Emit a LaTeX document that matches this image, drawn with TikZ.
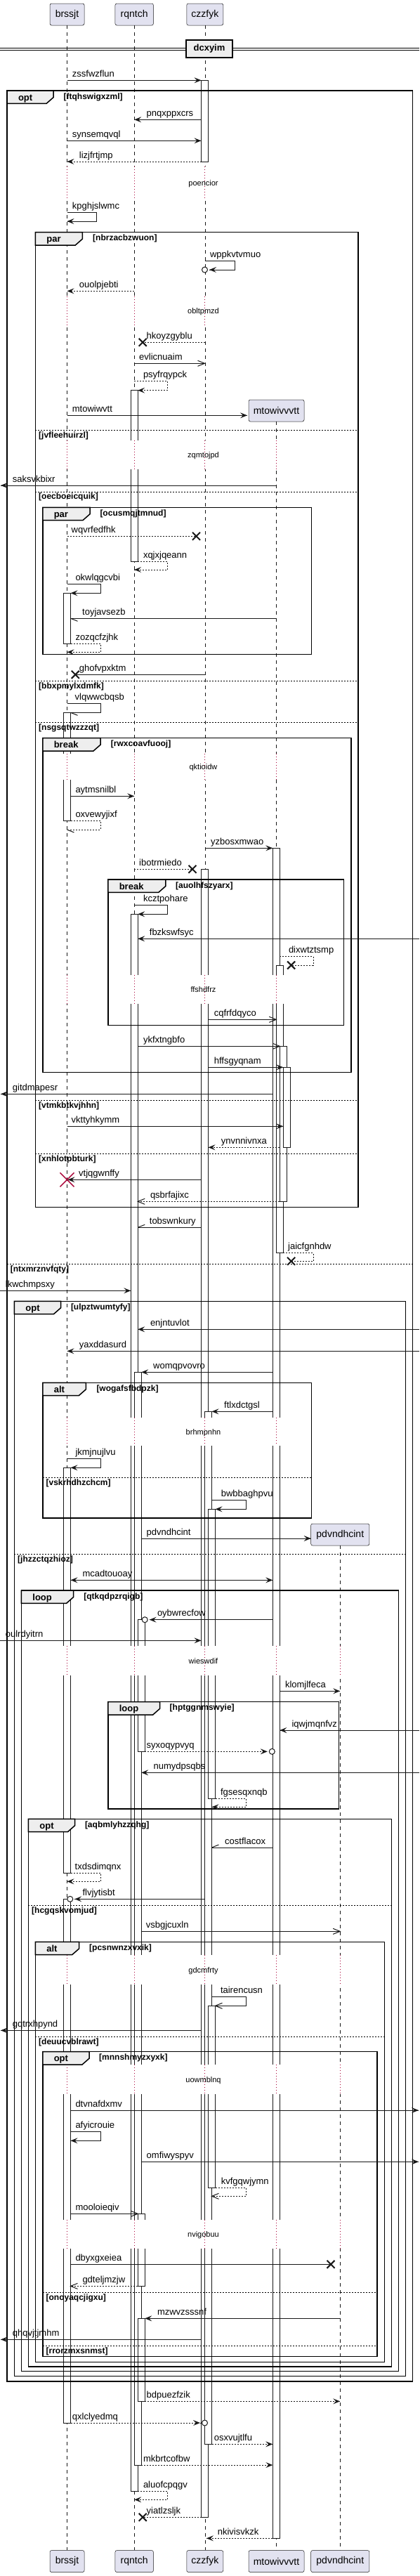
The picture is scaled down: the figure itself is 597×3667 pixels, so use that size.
\documentclass[tikz,border=0pt]{standalone}
\usepackage{fontspec}
\setmainfont{Liberation Sans}
\definecolor{inkc}{HTML}{181818}
\definecolor{partfill}{HTML}{E2E2F0}
\definecolor{tabfill}{HTML}{EEEEEE}
\definecolor{delayc}{HTML}{A80036}
\tikzset{
 ln/.style={draw=inkc, line width=1pt},
 dsh/.style={dash pattern=on 2pt off 2pt},
 life/.style={draw=inkc, line width=0.5pt, dash pattern=on 5pt off 5pt},
 actbox/.style={draw=inkc, fill=white, line width=1pt},
 frm/.style={draw=black, line width=1.5pt},
 sepl/.style={draw=black, line width=1pt, dash pattern=on 2pt off 2pt},
 mtext/.style={anchor=base west, inner sep=0pt, font=\fontsize{13}{15}\selectfont},
 ctext/.style={anchor=base west, inner sep=0pt, font=\bfseries\fontsize{12}{14}\selectfont},
 ltext/.style={anchor=base west, inner sep=0pt, font=\bfseries\fontsize{13}{15}\selectfont},
 dtext/.style={anchor=base, inner sep=0pt, font=\fontsize{11}{13}\selectfont},
 part/.style={draw=inkc, fill=partfill, line width=0.5pt, rounded corners=2.5pt, inner sep=0pt, minimum height=31pt, font=\fontsize{14}{16}\selectfont},
 dline/.style={draw=delayc, line width=1pt, dash pattern=on 1pt off 3pt},
 divbox/.style={draw=black, fill=tabfill, line width=1.5pt, inner sep=0pt, minimum width=66pt, minimum height=25pt, font=\bfseries\fontsize{13}{15}\selectfont},
}
% message: y, x1, x2, style, label, labelx
\newcommand\Msg[6]{\draw[ln,#4] (#2,#1) -- (#3,#1); \node[mtext] (t#5) at (#6,{#1-5}) {#5};}
% self message: ytop, xstart, xright, ybottom, xend, style, label, labelx
\newcommand\SelfM[8]{\draw[ln,#6] (#2,#1) -- (#3,#1) -- (#3,#4) -- (#5,#4); \node[mtext] (t#7) at (#8,{#1-5}) {#7};}
\newcommand\hF[3]{\fill[inkc] (#1,#2) -- ({#1-10*(#3)},{#2-4}) -- ({#1-6*(#3)},#2) -- ({#1-10*(#3)},{#2+4}) -- cycle;}
\newcommand\hO[3]{\draw[ln] ({#1-10*(#3)},{#2-4}) -- (#1,#2) -- ({#1-10*(#3)},{#2+4});}
\newcommand\hL[3]{\draw[ln] (#1,#2) -- ({#1-10*(#3)},{#2+4});}
\newcommand\hU[3]{\draw[ln] (#1,#2) -- ({#1-10*(#3)},{#2-4});}
\newcommand\Xm[2]{\draw[ln, line width=2pt] ({#1-5.5},{#2-5.5}) -- ({#1+5.5},{#2+5.5}) ({#1-5.5},{#2+5.5}) -- ({#1+5.5},{#2-5.5});}
\newcommand\CircE[2]{\draw[ln, fill=white] (#1,#2) circle[radius=4pt];}
\newcommand\ActB[3]{\draw[actbox] (#1,#2) rectangle ({#1+10},#3);}
\newcommand\DelayZ[4]{\foreach \lx in {#4} {\fill[white] ({\lx-6},#1) rectangle ({\lx+22},#2); \draw[dline] (\lx,#1) -- (\lx,#2);}
 \node[dtext] (d#3) at (289.5,{(#1+#2)/2+4}) {#3};}
% frame: x1,y1,x2,y2,tabright,label,cond,condx
\newcommand\Frm[8]{\draw[frm] (#1,#2) rectangle (#3,#4);
 \draw[frm, fill=tabfill] (#1,#2) -- (#5,#2) -- (#5,{#2+9.5}) -- ({#5-10},{#2+18.3}) -- (#1,{#2+18.3}) -- cycle;
 \node[ltext] (f#7) at ({#1+15.8},{#2+14}) {#6};
 \node[ctext] (c#7) at (#8,{#2+12.2}) {[#7]};}
\newcommand\SepL[4]{\draw[sepl] (#1,#3) -- (#2,#3); \node[ctext] (s#4) at ({#1+4.6},{#3+10.7}) {[#4]};}
\begin{document}
\begin{tikzpicture}[x=1pt,y=-1pt]
\fill[white] (0,0) rectangle (597,3667);
\useasboundingbox (0,0) rectangle (597,3667);
% participants
\node[part, minimum width=49pt] (pB) at (95.5,20.5) {brssjt};
\node[part, minimum width=54.5pt] (pR) at (191.2,20.5) {rqntch};
\node[part, minimum width=52pt] (pC) at (291.8,20.5) {czzfyk};
\node[part, minimum width=79pt] (pM) at (393.5,584.5) {mtowivvvtt};
\node[part, minimum width=83.3pt] (pP) at (484.3,2184.5) {pdvndhcint};
\node[part, minimum width=49pt] (pBb) at (95.5,3646) {brssjt};
\node[part, minimum width=54.5pt] (pRb) at (191.2,3646) {rqntch};
\node[part, minimum width=52pt] (pCb) at (291.8,3646) {czzfyk};
\node[part, minimum width=79pt] (pMb) at (393.5,3646) {mtowivvvtt};
\node[part, minimum width=83.3pt] (pPb) at (484.3,3646) {pdvndhcint};
% lifelines
\draw[life] (pB.south) -- (pBb.north);
\draw[life] (pR.south) -- (pRb.north);
\draw[life] (pC.south) -- (pCb.north);
\draw[life] (pM.south) -- (pMb.north);
\draw[life] (pP.south) -- (pPb.north);
% activations
\ActB{286.5}{114.3}{230}
\ActB{186.2}{555.7}{799.3}
\ActB{90.5}{844.3}{916}
\ActB{90.5}{1014.3}{1168.3}
\ActB{388.3}{1207.3}{3613.3}
\ActB{286.5}{1237.3}{3583.3}
\ActB{186.2}{1301.3}{3546}
\ActB{90.5}{2089.3}{2666}
\ActB{90.5}{2703.3}{3449}
\ActB{393.3}{1374}{1783.3}
\ActB{191.2}{1953.3}{3509}
\ActB{291.5}{2009.3}{3479.3}
\ActB{398.3}{1489.3}{1710.3}
\ActB{196.2}{2305.7}{2493.3}
\ActB{196.2}{3151.3}{3254.3}
\ActB{196.2}{3300.3}{3418.3}
\ActB{296.5}{2148.3}{2560}
\ActB{296.5}{2855.3}{3114}
\ActB{403.3}{1519.3}{1633.3}
% delays
\DelayZ{237}{283}{poencior}{95.5,191.2,291.5}
\DelayZ{421.7}{463}{obltpmzd}{95.5,191.2,291.5}
\DelayZ{626.7}{668.3}{zqmtojpd}{95.5,191.2,291.5,393.3}
\DelayZ{1073}{1110}{qktioidw}{95.5,191.2,291.5,393.3}
\DelayZ{1387.7}{1429.3}{ffshdfrz}{95.5,191.2,291.5,393.3}
\DelayZ{2018.3}{2057.7}{brhmpnhn}{95.5,191.2,291.5,393.3}
\DelayZ{2343.3}{2385}{wieswdif}{95.5,191.2,291.5,393.3,484.3}
\DelayZ{2783.3}{2825}{gdcmfrty}{95.5,191.2,291.5,393.3,484.3}
\DelayZ{2939.3}{2981}{uowmblnq}{95.5,191.2,291.5,393.3,484.3}
\DelayZ{3160}{3201}{nvigobuu}{95.5,191.2,291.5,393.3,484.3}
% frames
\Frm{10}{129}{587.7}{3390}{76.2}{opt}{ftqhswigxzml}{90.4}
\Frm{50.4}{330.7}{510}{1718.3}{117.3}{par}{nbrzacbzwuon}{132}
\Frm{60.8}{722.3}{443.5}{931.7}{128}{par}{ocusmqjtmnud}{142.3}
\Frm{60.8}{1050.7}{500}{1526.7}{143}{break}{rwxcoavfuooj}{157.7}
\Frm{153.8}{1252}{489.6}{1459.3}{235.8}{break}{auolhfszyarx}{250}
\Frm{20.4}{1852.3}{577.7}{3382.3}{86.5}{opt}{ulpztwumtyfy}{100.8}
\Frm{60.8}{1968.3}{443.5}{2161}{122.3}{alt}{wogafsfbdpzk}{137.3}
\Frm{30.4}{2264}{567.3}{3375.7}{104.6}{loop}{qtkqdpzrqigb}{119.2}
\Frm{153.8}{2422.7}{482.7}{2575}{227.7}{loop}{hptggnmswyie}{241.5}
\Frm{40.4}{2589.3}{557.3}{3369}{106.5}{opt}{aqbmlyhzzqhg}{120.8}
\Frm{50.4}{2764.3}{547.3}{3362.3}{112.7}{alt}{pcsnwnzxvxik}{127}
\Frm{60.8}{2920.7}{537}{3354.3}{127}{opt}{mnnshmyzxyxk}{141}
\SepL{10}{587.7}{1799.3}{ntxmrznvfqty}
\SepL{50.4}{510}{612.3}{jvfleehuirzl}
\SepL{50.4}{510}{700}{oecboeicquik}
\SepL{50.4}{510}{969.3}{bbxpmylxdmfk}
\SepL{50.4}{510}{1028.3}{nsgsqtwzzzqt}
\SepL{50.4}{510}{1566.3}{vtmkbtkvjhhn}
\SepL{50.4}{510}{1642.3}{xnhlotpbturk}
\SepL{60.8}{443.5}{2103.3}{vskrhdhzchcm}
\SepL{20.4}{577.7}{2212.3}{jhzzctqzhioz}
\SepL{40.4}{557.3}{2712.3}{hcgqskvomjud}
\SepL{50.4}{547.3}{2899.3}{deuucvblrawt}
\SepL{60.8}{537}{3263.3}{onoyaqcjigxu}
\SepL{60.8}{537}{3339.3}{rrorzmxsnmst}
% divider
\draw[black, line width=1pt] (0,68.3) -- (597,68.3) (0,71.3) -- (597,71.3);
\node[divbox] (div) at (298,69.5) {dcxyim};
% messages
\Msg{114.3}{95.5}{286.5}{}{zssfwzflun}{102.7}\hF{286.5}{114.3}{1}
\Msg{170.3}{286.5}{191.2}{}{pnqxppxcrs}{208.5}\hF{191.2}{170.3}{-1}
\Msg{200.3}{95.5}{286.5}{}{synsemqvql}{102.7}\hF{286.5}{200.3}{1}
\Msg{230}{286.5}{95.5}{dsh}{lizjfrtjmp}{112.7}\hF{95.5}{230}{-1}
\SelfM{302.3}{95.5}{137.7}{315}{95.5}{}{kpghjslwmc}{102.7}\hF{95.5}{315}{-1}
\SelfM{371.3}{291.5}{334.6}{384}{298}{}{wppkvtvmuo}{298.8}\hF{298}{384}{-1}\CircE{291.5}{384}
\Msg{414.3}{191.2}{95.5}{dsh}{ouolpjebti}{112.7}\hF{95.5}{414.3}{-1}
\Msg{487.3}{291.5}{203.2}{dsh}{hkoyzgyblu}{208.5}\Xm{203.2}{487.3}
\Msg{517.3}{191.2}{291.5}{}{evlicnuaim}{198}\hO{291.5}{517.3}{1}
\SelfM{542.7}{191.2}{238.5}{555.7}{196.2}{dsh}{psyfrqypck}{203.8}\hF{196.2}{555.7}{-1}
\Msg{591.3}{95.5}{352}{}{mtowiwvtt}{102.7}\hF{352}{591.3}{1}
\Msg{691}{393.3}{1}{}{saksvkbixr}{17.7}\hF{1}{691}{-1}
\Msg{763.3}{95.5}{279.5}{dsh}{wqvrfedfhk}{101.5}\Xm{279.5}{763.3}
\SelfM{799.3}{196.2}{238.5}{811}{191.2}{dsh}{xqjxjqeann}{203.8}\hF{191.2}{811}{-1}
\SelfM{831.3}{95.5}{143}{844.3}{100.5}{}{okwlqgcvbi}{107.3}\hF{100.5}{844.3}{-1}
\Msg{880.3}{393.3}{100.5}{}{toyjavsezb}{117}\hL{100.5}{880.3}{-1}
\SelfM{916}{100.5}{143}{928.3}{95.5}{dsh}{zozqcfzjhk}{107.3}\hF{95.5}{928.3}{-1}
\Msg{960.3}{291.5}{107.3}{}{ghofvpxktm}{112.7}\Xm{107.3}{960.3}
\SelfM{1001.7}{95.5}{143}{1014.3}{100.5}{}{vlqwwcbqsb}{106.5}\hL{100.5}{1014.3}{-1}
\Msg{1133.3}{100.5}{191.2}{}{aytmsnilbl}{107.3}\hF{191.2}{1133.3}{1}
\SelfM{1168.3}{100.5}{143}{1181}{95.5}{dsh}{oxvewyjixf}{107.3}\hL{95.5}{1181}{-1}
\Msg{1207.3}{291.5}{388.3}{}{yzbosxmwao}{300}\hF{388.3}{1207.3}{1}
\Msg{1237.3}{191.2}{274}{dsh}{ibotrmiedo}{198}\Xm{274}{1237.3}
\SelfM{1288.3}{191.2}{238.5}{1301.3}{196.2}{}{kcztpohare}{203.8}\hF{196.2}{1301.3}{-1}
\Msg{1336.3}{597}{196.2}{}{fbzkswfsyc}{212.7}\hF{196.2}{1336.3}{-1}
\SelfM{1361.3}{398.3}{446}{1374}{414.6}{dsh}{dixwtztsmp}{410.8}\Xm{414.6}{1374}
\Msg{1451.3}{296.5}{393.3}{}{cqfrfdqyco}{304.6}\hO{393.3}{1451.3}{1}
\Msg{1489.3}{196.2}{398.3}{}{ykfxtngbfo}{203.8}\hO{398.3}{1489.3}{1}
\Msg{1519.3}{296.5}{403.3}{}{hffsgyqnam}{304.6}\hF{403.3}{1519.3}{1}
\Msg{1557.3}{388.3}{1}{}{gitdmapesr}{17.7}\hF{1}{1557.3}{-1}
\Msg{1603.3}{95.5}{403.3}{}{vkttyhkymm}{101.5}\hF{403.3}{1603.3}{1}
\Msg{1633.3}{398.3}{296.5}{dsh}{ynvnnivnxa}{314.6}\hF{296.5}{1633.3}{-1}
\Msg{1679.3}{286.5}{96.5}{}{vtjqgwnffy}{112}\hF{96.5}{1679.3}{-1}
\Msg{1710.3}{398.3}{196.2}{dsh}{qsbrfajixc}{213.8}\hO{196.2}{1710.3}{-1}
\Msg{1747.3}{286.5}{196.2}{}{tobswnkury}{212.7}\hU{196.2}{1747.3}{-1}
\SelfM{1783.3}{403.3}{446}{1795.3}{414.6}{dsh}{jaicfgnhdw}{410}\Xm{414.6}{1795.3}
\Msg{1837.3}{0}{186.2}{}{lkwchmpsxy}{7.7}\hF{186.2}{1837.3}{1}
\Msg{1892.3}{597}{196.2}{}{enjntuvlot}{213.8}\hF{196.2}{1892.3}{-1}
\Msg{1923.3}{597}{95.5}{}{yaxddasurd}{112.7}\hF{95.5}{1923.3}{-1}
\Msg{1953.3}{388.3}{201.2}{}{womqpvovro}{218}\hF{201.2}{1953.3}{-1}
\Msg{2009.3}{388.3}{301.5}{}{ftlxdctgsl}{319}\hF{301.5}{2009.3}{-1}
\SelfM{2076.7}{95.5}{143}{2089.3}{100.5}{}{jkmjnujlvu}{107.3}\hF{100.5}{2089.3}{-1}
\SelfM{2135.7}{301.5}{350}{2148.3}{306.5}{}{bwbbaghpvu}{314.6}\hF{306.5}{2148.3}{-1}
\Msg{2190}{201.2}{442.7}{}{pdvndhcint}{208.5}\hF{442.7}{2190}{1}
\Msg{2249.3}{100.5}{388.3}{}{mcadtouoay}{117.3}\hF{100.5}{2249.3}{-1}\hF{388.3}{2249.3}{1}
\Msg{2305.7}{388.3}{212.7}{}{oybwrecfow}{223.8}\hF{212.7}{2305.7}{-1}\CircE{206.2}{2305.7}
\Msg{2335.3}{0}{286.5}{}{oulrdyitrn}{7.7}\hF{286.5}{2335.3}{1}
\Msg{2407.3}{398.3}{484.2}{}{klomjlfeca}{405.8}\hF{484.2}{2407.3}{1}
\Msg{2463}{597}{398.3}{}{iqwjmqnfvz}{415.4}\hF{398.3}{2463}{-1}
\Msg{2493.3}{206.2}{380.8}{dsh}{syxoqypvyq}{208.5}\hF{380.8}{2493.3}{1}\CircE{387.3}{2493.3}
\Msg{2523.3}{597}{201.2}{}{numydpsqbs}{218.5}\hF{201.2}{2523.3}{-1}
\SelfM{2560}{306.5}{350}{2572.3}{301.5}{dsh}{fgsesqxnqb}{313.8}\hF{301.5}{2572.3}{-1}
\Msg{2630}{388.3}{301.5}{}{costflacox}{320}\hU{301.5}{2630}{-1}
\SelfM{2666}{100.5}{143}{2678.3}{95.5}{dsh}{txdsdimqnx}{106.5}\hF{95.5}{2678.3}{-1}
\Msg{2703.3}{291.5}{106.3}{}{flvjytisbt}{117.3}\hF{106.3}{2703.3}{-1}\CircE{99.8}{2703.3}
\Msg{2749.3}{201.2}{484.2}{}{vsbgjcuxln}{207.7}\hO{484.2}{2749.3}{1}
\SelfM{2842.3}{301.5}{350}{2855.3}{306.5}{}{tairencusn}{313.8}\hO{306.5}{2855.3}{-1}
\Msg{2890.3}{286.5}{1}{}{gqtrxhpynd}{17.7}\hF{1}{2890.3}{-1}
\Msg{3004}{100.5}{596}{}{dtvnafdxmv}{107.3}\hF{596}{3004}{1}
\SelfM{3034.3}{100.5}{143}{3047.3}{100.5}{}{afyicrouie}{107.3}\hF{100.5}{3047.3}{-1}
\Msg{3077.3}{201.2}{596}{}{omfiwyspyv}{208.5}\hF{596}{3077.3}{1}
\SelfM{3114}{306.5}{350}{3126.3}{301.5}{dsh}{kvfgqwjymn}{314.6}\hO{301.5}{3126.3}{-1}
\Msg{3151.3}{100.5}{196.2}{}{mooloieqiv}{107.3}\hO{196.2}{3151.3}{1}
\Msg{3223.3}{100.5}{471}{}{dbyxgxeiea}{107.3}\Xm{471}{3223.3}
\Msg{3254.3}{196.2}{100.5}{dsh}{gdteljmzjw}{117.3}\hO{100.5}{3254.3}{-1}
\Msg{3300.3}{484.2}{206.2}{}{mzwvzsssnf}{223.8}\hF{206.2}{3300.3}{-1}
\Msg{3330.3}{286.5}{1}{}{qhqvjtjmhm}{17.7}\hF{1}{3330.3}{-1}
\Msg{3418.3}{206.2}{484.2}{dsh}{bdpuezfzik}{208.5}\hF{484.2}{3418.3}{1}
\Msg{3449}{100.5}{285}{dsh}{qxlclyedmq}{102.7}\hF{285}{3449}{1}\CircE{291.5}{3449}
\Msg{3479.3}{301.5}{388.3}{dsh}{osxvujtlfu}{304.6}\hF{388.3}{3479.3}{1}
\Msg{3509}{201.2}{388.3}{dsh}{mkbrtcofbw}{203.8}\hF{388.3}{3509}{1}
\SelfM{3546}{196.2}{238.5}{3558.3}{191.2}{dsh}{aluofcpqgv}{203.8}\hF{191.2}{3558.3}{-1}
\Msg{3583.3}{286.5}{203.2}{dsh}{yiatlzsljk}{208.5}\Xm{203.2}{3583.3}
\Msg{3613.3}{388.3}{294}{dsh}{nkivisvkzk}{309.6}\hF{294}{3613.3}{-1}
% destroy mark
\draw[delayc, line width=1.5pt] (85.5,1669.3) -- (105.5,1689.3) (85.5,1689.3) -- (105.5,1669.3);
\end{tikzpicture}
\end{document}
